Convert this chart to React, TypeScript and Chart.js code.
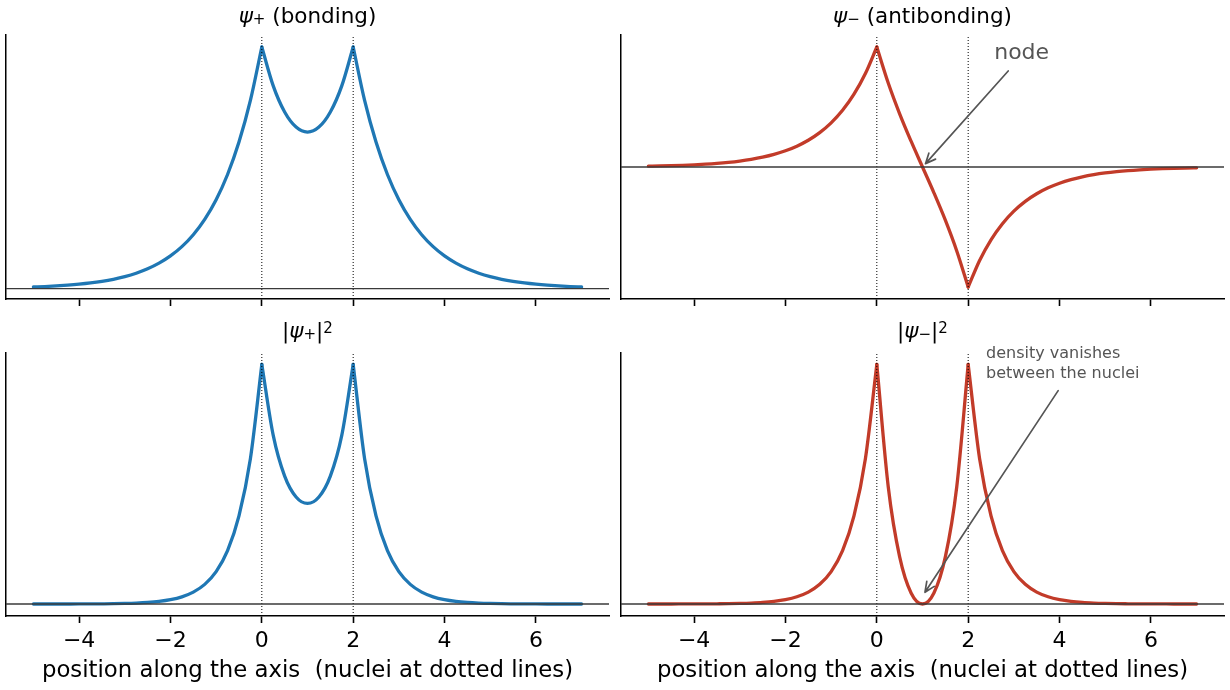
import React, { useEffect, useRef } from "react";
import Chart from "chart.js/auto";

// sample positions along the internuclear axis (nuclei sit at 0 and 2)
const positions = [
  -5, -4.75, -4.5, -4.25, -4, -3.75, -3.5, -3.25, -3, -2.75, -2.5, -2.25, -2, -1.75, -1.5, -1.25, -1, -0.75, -0.5, -0.25,
  0, 0.25, 0.5, 0.75, 1, 1.25, 1.5, 1.75,
  2, 2.25, 2.5, 2.75, 3, 3.25, 3.5, 3.75, 4, 4.25, 4.5, 4.75, 5, 5.25, 5.5, 5.75, 6, 6.25, 6.5, 6.75, 7,
];
const nuclei = [0, 2];
const tickValues = [-4, -2, 0, 2, 4, 6];
const xLimits = [-5.6, 7.6];

const bonding = [
  0.0077, 0.0098, 0.0126, 0.0162, 0.0208, 0.0267, 0.0343, 0.044, 0.0565, 0.0726, 0.0932, 0.1197, 0.1537, 0.1973, 0.2533, 0.3253, 0.4177, 0.5363, 0.6886, 0.8842,
  1.1353, 0.9526, 0.8297, 0.7589, 0.7358, 0.7589, 0.8297, 0.9526,
  1.1353, 0.8842, 0.6886, 0.5363, 0.4177, 0.3253, 0.2533, 0.1973, 0.1537, 0.1197, 0.0932, 0.0726, 0.0565, 0.044, 0.0343, 0.0267, 0.0208, 0.0162, 0.0126, 0.0098, 0.0077,
];
const antibonding = [
  0.0058, 0.0075, 0.0096, 0.0123, 0.0158, 0.0203, 0.0261, 0.0335, 0.043, 0.0553, 0.071, 0.0911, 0.117, 0.1503, 0.1929, 0.2477, 0.3181, 0.4084, 0.5244, 0.6734,
  0.8647, 0.605, 0.3834, 0.1859, 0, -0.1859, -0.3834, -0.605,
  -0.8647, -0.6734, -0.5244, -0.4084, -0.3181, -0.2477, -0.1929, -0.1503, -0.117, -0.0911, -0.071, -0.0553, -0.043, -0.0335, -0.0261, -0.0203, -0.0158, -0.0123, -0.0096, -0.0075, -0.0058,
];
const bondingDensity = [
  0.0001, 0.0001, 0.0002, 0.0003, 0.0004, 0.0007, 0.0012, 0.0019, 0.0032, 0.0053, 0.0087, 0.0143, 0.0236, 0.0389, 0.0642, 0.1058, 0.1744, 0.2876, 0.4742, 0.7818,
  1.289, 0.9074, 0.6883, 0.5759, 0.5413, 0.5759, 0.6883, 0.9074,
  1.289, 0.7818, 0.4742, 0.2876, 0.1744, 0.1058, 0.0642, 0.0389, 0.0236, 0.0143, 0.0087, 0.0053, 0.0032, 0.0019, 0.0012, 0.0007, 0.0004, 0.0003, 0.0002, 0.0001, 0.0001,
];
const antibondingDensity = [
  0, 0.0001, 0.0001, 0.0002, 0.0003, 0.0004, 0.0007, 0.0011, 0.0019, 0.0031, 0.005, 0.0083, 0.0137, 0.0226, 0.0372, 0.0614, 0.1012, 0.1668, 0.275, 0.4535,
  0.7476, 0.3661, 0.147, 0.0345, 0, 0.0345, 0.147, 0.3661,
  0.7476, 0.4535, 0.275, 0.1668, 0.1012, 0.0614, 0.0372, 0.0226, 0.0137, 0.0083, 0.005, 0.0031, 0.0019, 0.0011, 0.0007, 0.0004, 0.0003, 0.0002, 0.0001, 0.0001, 0,
];

const X_LABEL = "position along the axis  (nuclei at dotted lines)";
const FONT = "'DejaVu Sans', sans-serif";
const BLUE = "#1f77b4";
const RED = "#c23b29";
const GREY = "#555555";

type Part = { text: string; italic?: boolean; sub?: boolean; sup?: boolean };
type Note = {
  lines: string[];
  size: number;
  lineGap: number;
  textAt: [number, number];
  from: [number, number];
  to: [number, number];
};

const fmtTick = (v: number) => (v < 0 ? "\u2212" + Math.abs(v) : String(v));

// split a curve at the nuclei so the cusps stay sharp
function splitAtNuclei(ys: number[]) {
  const bounds = [0, ...nuclei.map((n) => positions.indexOf(n)), positions.length - 1];
  const segs: { x: number; y: number }[][] = [];
  for (let i = 0; i < bounds.length - 1; i++) {
    const seg: { x: number; y: number }[] = [];
    for (let j = bounds[i]; j <= bounds[i + 1]; j++) seg.push({ x: positions[j], y: ys[j] });
    segs.push(seg);
  }
  return segs;
}

function paddedRange(ys: number[]) {
  const lo = Math.min(...ys);
  const hi = Math.max(...ys);
  const m = (hi - lo) * 0.05;
  return [lo - m, hi + m];
}

const titlePlugin = (parts: Part[], gap: number) => ({
  id: "mathTitle",
  afterDraw(chart: any) {
    const { ctx, chartArea } = chart;
    const size = 21.5;
    const fontFor = (p: Part) =>
      `${p.italic ? "italic " : ""}${p.sub || p.sup ? size * 0.7 : size}px ${FONT}`;
    ctx.save();
    let total = 0;
    const widths = parts.map((p) => {
      ctx.font = fontFor(p);
      const w = ctx.measureText(p.text).width;
      total += w;
      return w;
    });
    let x = (chartArea.left + chartArea.right) / 2 - total / 2;
    const base = chartArea.top - gap;
    ctx.fillStyle = "#000";
    ctx.textAlign = "left";
    ctx.textBaseline = "alphabetic";
    parts.forEach((p, i) => {
      ctx.font = fontFor(p);
      const dy = p.sub ? 1 : p.sup ? -4.5 : 0;
      ctx.fillText(p.text, x, base + dy);
      x += widths[i];
    });
    ctx.restore();
  },
});

const notePlugin = (note: Note) => ({
  id: "note",
  afterDraw(chart: any) {
    const { ctx } = chart;
    const { x: xs, y: ys } = chart.scales;
    ctx.save();
    ctx.fillStyle = GREY;
    ctx.font = `${note.size}px ${FONT}`;
    ctx.textAlign = "left";
    ctx.textBaseline = "alphabetic";
    const tx = xs.getPixelForValue(note.textAt[0]);
    const ty = ys.getPixelForValue(note.textAt[1]);
    note.lines.forEach((l, i) => ctx.fillText(l, tx, ty + i * note.lineGap));

    const x0 = xs.getPixelForValue(note.from[0]);
    const y0 = ys.getPixelForValue(note.from[1]);
    let x1 = xs.getPixelForValue(note.to[0]);
    let y1 = ys.getPixelForValue(note.to[1]);
    const len = Math.hypot(x0 - x1, y0 - y1);
    x1 += ((x0 - x1) / len) * 4.5;
    y1 += ((y0 - y1) / len) * 4.5;
    const ang = Math.atan2(y1 - y0, x1 - x0);
    ctx.strokeStyle = GREY;
    ctx.lineWidth = 1.7;
    ctx.lineCap = "round";
    ctx.lineJoin = "round";
    ctx.beginPath();
    ctx.moveTo(x0, y0);
    ctx.lineTo(x1, y1);
    ctx.moveTo(x1 - 11 * Math.cos(ang - 0.42), y1 - 11 * Math.sin(ang - 0.42));
    ctx.lineTo(x1, y1);
    ctx.lineTo(x1 - 11 * Math.cos(ang + 0.42), y1 - 11 * Math.sin(ang + 0.42));
    ctx.stroke();
    ctx.restore();
  },
});

interface PanelProps {
  values: number[];
  color: string;
  title: Part[];
  titleGap: number;
  note?: Note;
  left: number;
  top: number;
  width: number;
  height: number;
  padTop: number;
  axisHeight: number;
  labelled: boolean;
}

const Panel = (props: PanelProps) => {
  const canvasRef = useRef<HTMLCanvasElement | null>(null);

  useEffect(() => {
    const ctx = canvasRef.current?.getContext("2d");
    if (!ctx) return;
    const [yMin, yMax] = paddedRange(props.values);

    const datasets: any[] = [
      {
        data: [{ x: xLimits[0], y: 0 }, { x: xLimits[1], y: 0 }],
        borderColor: "#3a3a3a",
        borderWidth: 1.4,
        pointRadius: 0,
      },
      ...nuclei.map((n) => ({
        data: [{ x: n, y: yMin }, { x: n, y: yMax }],
        borderColor: "#000",
        borderWidth: 1,
        borderDash: [1, 2],
        pointRadius: 0,
      })),
      ...splitAtNuclei(props.values).map((seg) => ({
        data: seg,
        borderColor: props.color,
        borderWidth: 3.3,
        pointRadius: 0,
        cubicInterpolationMode: "monotone",
        borderCapStyle: "round",
        borderJoinStyle: "round",
      })),
    ];

    const plugins: any[] = [titlePlugin(props.title, props.titleGap)];
    if (props.note) plugins.push(notePlugin(props.note));

    const chart = new Chart(ctx, {
      type: "line",
      data: { datasets },
      options: {
        animation: false,
        responsive: false,
        events: [],
        layout: { padding: { left: 6, right: 6, top: props.padTop, bottom: 0 } },
        plugins: {
          legend: { display: false },
          tooltip: { enabled: false },
        },
        scales: {
          x: {
            type: "linear",
            min: xLimits[0],
            max: xLimits[1],
            afterBuildTicks: (s: any) => {
              s.ticks = tickValues.map((value) => ({ value }));
            },
            afterFit: (s: any) => {
              s.height = props.axisHeight;
            },
            grid: {
              display: true,
              drawOnChartArea: false,
              drawTicks: true,
              tickLength: 7,
              tickWidth: 1.6,
              tickColor: "#000",
            },
            border: { display: true, color: "#000", width: 1.5 },
            ticks: {
              display: props.labelled,
              color: "#000",
              font: { size: 22, family: FONT },
              padding: 5,
              maxRotation: 0,
              autoSkip: false,
              callback: (v: any) => fmtTick(Number(v)),
            },
            title: {
              display: props.labelled,
              text: X_LABEL,
              color: "#000",
              font: { size: 22.8, family: FONT },
              padding: { top: 0, bottom: 5 },
            },
          },
          y: {
            type: "linear",
            min: yMin,
            max: yMax,
            afterFit: (s: any) => {
              s.width = 0;
            },
            grid: { display: false },
            border: { display: true, color: "#000", width: 1.5 },
            ticks: { display: false },
          },
        },
      } as any,
      plugins,
    });

    return () => {
      chart.destroy();
    };
  }, []);

  return (
    <canvas
      ref={canvasRef}
      width={props.width}
      height={props.height}
      style={{ position: "absolute", left: props.left, top: props.top, width: props.width, height: props.height }}
    />
  );
};

const psi = (sign: string): Part[] => [
  { text: "\u03c8", italic: true },
  { text: sign, sub: true },
];

export default function App() {
  return (
    <div style={{ position: "fixed", left: 0, top: 0, width: 1230, height: 690, background: "#fff" }}>
      <Panel
        values={bonding}
        color={BLUE}
        title={[...psi("+"), { text: " (bonding)" }]}
        titleGap={12}
        left={0}
        top={0}
        width={615}
        height={320}
        padTop={35}
        axisHeight={21}
        labelled={false}
      />
      <Panel
        values={antibonding}
        color={RED}
        title={[...psi("\u2212"), { text: " (antibonding)" }]}
        titleGap={12}
        note={{ lines: ["node"], size: 22, lineGap: 26, textAt: [2.57, 0.776], from: [2.876, 0.692], to: [1, 0] }}
        left={615}
        top={0}
        width={615}
        height={320}
        padTop={35}
        axisHeight={21}
        labelled={false}
      />
      <Panel
        values={bondingDensity}
        color={BLUE}
        title={[{ text: "|" }, ...psi("+"), { text: "|" }, { text: "2", sup: true }]}
        titleGap={15}
        left={0}
        top={320}
        width={615}
        height={370}
        padTop={32.5}
        axisHeight={74}
        labelled={true}
      />
      <Panel
        values={antibondingDensity}
        color={RED}
        title={[{ text: "|" }, ...psi("\u2212"), { text: "|" }, { text: "2", sup: true }]}
        titleGap={15}
        note={{
          lines: ["density vanishes", "between the nuclei"],
          size: 16,
          lineGap: 20,
          textAt: [2.39, 0.768],
          from: [3.97, 0.666],
          to: [1, 0.025],
        }}
        left={615}
        top={320}
        width={615}
        height={370}
        padTop={32.5}
        axisHeight={74}
        labelled={true}
      />
    </div>
  );
}
